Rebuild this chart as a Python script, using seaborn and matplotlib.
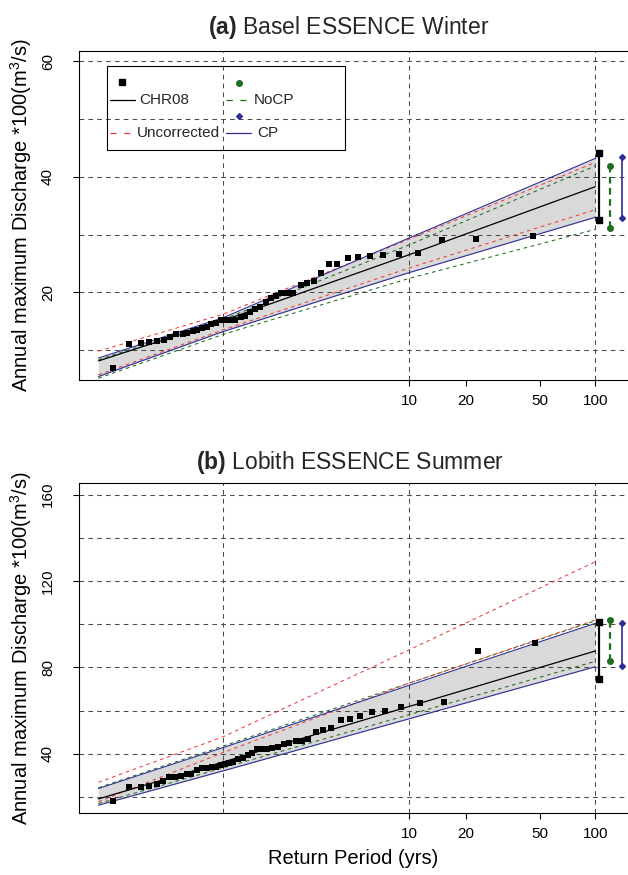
import numpy as np
import matplotlib
matplotlib.use("Agg")
import matplotlib.pyplot as plt
import seaborn as sns
from matplotlib.lines import Line2D
from matplotlib.patches import Rectangle
from matplotlib.ticker import FixedLocator, NullLocator

# ---------------- data ----------------
# (a) Basel ESSENCE Winter : observed annual maxima (return period, discharge*100)
T_pts_a = [1.0125, 1.0284, 1.0467, 1.0654, 1.0873, 1.1092, 1.1320, 1.1593, 1.1908, 1.2161,
           1.2486, 1.2749, 1.3125, 1.3488, 1.3872, 1.4265, 1.4778, 1.5193, 1.5667, 1.638,
           1.708, 1.772, 1.846, 1.916, 2.011, 2.110, 2.208, 2.319, 2.439, 2.585,
           2.743, 2.955, 3.143, 3.392, 3.666, 3.997, 4.363, 4.933, 5.522, 6.317,
           7.375, 8.905, 11.18, 14.95, 22.60, 46.04]
Q_pts_a = [6.8, 11.0, 11.2, 11.3, 11.6, 11.7, 12.2, 12.7, 12.7, 13.0,
           13.3, 13.5, 13.8, 14.0, 14.5, 14.6, 15.25, 15.25, 15.25, 15.25,
           15.8, 15.9, 16.6, 17.05, 17.4, 18.4, 19.0, 19.4, 19.9, 19.9,
           19.9, 21.2, 21.6, 21.9, 23.4, 24.85, 24.95, 25.9, 26.1, 26.3,
           26.5, 26.6, 26.8, 29.1, 29.2, 29.8]

# (b) Lobith ESSENCE Summer
T_pts_b = [1.0125, 1.0284, 1.0467, 1.0654, 1.0855, 1.1067, 1.1292, 1.1547, 1.1836, 1.2127,
           1.2399, 1.2749, 1.3125, 1.3488, 1.3906, 1.4294, 1.4747, 1.5193, 1.5667, 1.6134,
           1.6722, 1.7352, 1.8067, 1.8772, 1.9589, 2.0358, 2.1286, 2.2341, 2.3702, 2.4956,
           2.6364, 2.809, 3.003, 3.195, 3.476, 3.745, 4.085, 4.531, 5.010, 5.650,
           6.489, 7.547, 9.124, 11.455, 15.32, 23.25, 47.2]
Q_pts_b = [18.1, 24.5, 24.6, 25.1, 25.9, 27.5, 29.1, 29.1, 29.7, 30.6,
           30.6, 32.5, 33.3, 33.6, 33.7, 34.0, 34.8, 35.1, 35.6, 36.2,
           37.6, 38.1, 39.3, 40.2, 42.1, 42.2, 42.2, 42.5, 43.1, 44.4,
           44.9, 45.8, 45.9, 46.9, 49.9, 51.2, 51.8, 55.5, 56.0, 57.4,
           59.2, 59.7, 61.5, 63.4, 64.0, 87.5, 91.2]

# fitted lines / confidence bounds, read at these return periods
T_line = [1.005, 1.5, 10, 100]
chr08_a = [8.1, 15.1, 26.5, 38.3]
cp_up_a = [8.6, 15.6, 29.4, 43.2]
cp_lo_a = [5.4, 13.2, 23.4, 33.0]
nocp_up_a = [8.3, 15.3, 28.2, 41.9]
nocp_lo_a = [5.1, 12.7, 22.4, 30.9]
unc_up_a = [9.8, 16.2, 29.2, 42.5]
unc_lo_a = [5.7, 13.5, 24.2, 34.3]

chr08_b = [19.1, 36.2, 61.9, 87.6]
cp_up_b = [23.9, 42.9, 71.7, 100.4]
cp_lo_b = [16.2, 32.1, 56.2, 80.3]
nocp_up_b = [24.3, 43.6, 72.7, 101.6]
nocp_lo_b = [17.0, 33.5, 58.1, 82.8]
unc_up_b = [26.8, 47.9, 88.1, 128.9]
unc_lo_b = [17.8, 40.6, 72.7, 101.9]

# 100-year confidence intervals (lower, upper)
ci100_chr08_a = [32.5, 44.1]
ci100_nocp_a = [31.1, 41.9]
ci100_cp_a = [32.8, 43.5]
ci100_chr08_b = [74.5, 100.9]
ci100_nocp_b = [83.1, 101.9]
ci100_cp_b = [80.8, 100.7]

x_ticks = [10, 20, 50, 100]
x_ticklabels = ["10", "20", "50", "100"]
y_ticks_a = [20, 40, 60]
y_ticks_b = [40, 80, 120, 160]
y_grid_a = [10, 20, 30, 40, 50, 60]
y_grid_b = [20, 40, 60, 80, 100, 120, 140, 160]
T_grid = [1.495, 10, 100]

titles = ["(a)", "Basel ESSENCE Winter", "(b)", "Lobith ESSENCE Summer"]
ylabel = "Annual maximum Discharge *100(m$^3$/s)"
xlabel = "Return Period (yrs)"

# ---------------- style ----------------
sns.set_theme(style="ticks")
plt.rcParams["font.family"] = ["Liberation Sans", "DejaVu Sans"]
plt.rcParams["mathtext.fontset"] = "custom"
plt.rcParams["mathtext.rm"] = "Liberation Sans"
plt.rcParams["mathtext.bf"] = "Liberation Sans:bold"
plt.rcParams["mathtext.it"] = "Liberation Sans:italic"

C_BLACK = "#000000"
C_RED = "#f03c3c"
C_GREEN = "#1e6e1e"
C_BLUE = "#2e2e96"
C_BAND = "#d9d9d9"
C_GRID = "#4a4a4a"
DASH = (0, (3.5, 3.5))
GRID_DASH = (0, (4.5, 4))


def fwd(T):
    T = np.asarray(T, dtype=float)
    with np.errstate(all="ignore"):
        return -np.log(-np.log(1.0 - 1.0 / T))


def inv(r):
    r = np.asarray(r, dtype=float)
    with np.errstate(all="ignore"):
        return 1.0 / (1.0 - np.exp(-np.exp(-r)))


fig = plt.figure(figsize=(6.28, 8.75), dpi=100)
W, H = 628.0, 875.0
ax_a = fig.add_axes([79 / W, 1 - 380 / H, 1 - 79 / W, (380 - 50.7) / H])
ax_b = fig.add_axes([79 / W, 1 - 813.3 / H, 1 - 79 / W, (813.3 - 483) / H])

T100 = 100.0
bar_offsets = [0.05, 0.19, 0.34]


def panel(ax, Tp, Qp, chr08, cpu, cpl, nocpu, nocpl, uncu, uncl,
          ci_chr, ci_nocp, ci_cp, ylim, yticks, ygrid):
    ax.set_xscale("function", functions=(fwd, inv))
    ax.set_xlim(1.001146, 150.96)
    ax.set_ylim(*ylim)

    ax.fill_between(T_line, cpl, cpu, color=C_BAND, lw=0, zorder=1)
    for g in ygrid:
        ax.axhline(g, color=C_GRID, lw=0.75, ls=GRID_DASH, zorder=1.5)
    for g in T_grid:
        ax.axvline(g, color=C_GRID, lw=0.75, ls=GRID_DASH, zorder=1.5)

    for vals, col, ls, lw in [(nocpu, C_GREEN, DASH, 0.75), (nocpl, C_GREEN, DASH, 0.75),
                              (uncu, C_RED, DASH, 0.75), (uncl, C_RED, DASH, 0.75),
                              (cpu, C_BLUE, "-", 0.8), (cpl, C_BLUE, "-", 0.8),
                              (chr08, C_BLACK, "-", 0.9)]:
        sns.lineplot(x=T_line, y=vals, ax=ax, color=col, linestyle=ls, lw=lw,
                     estimator=None, zorder=2, legend=False)

    sns.scatterplot(x=Tp, y=Qp, ax=ax, marker="s", color="black", s=20,
                    linewidth=0, zorder=3, legend=False)

    r100 = float(fwd(T100))
    xb = [float(inv(r100 + o)) for o in bar_offsets]
    ax.plot([xb[0], xb[0]], ci_chr, color=C_BLACK, lw=1.6, marker="s", ms=4.2,
            zorder=4, clip_on=False)
    ax.plot([xb[1], xb[1]], ci_nocp, color=C_GREEN, lw=1.6, ls=(0, (3, 2)),
            marker="o", ms=4.0, zorder=4, clip_on=False)
    ax.plot([xb[2], xb[2]], ci_cp, color=C_BLUE, lw=1.2, marker="D", ms=3.0,
            zorder=4, clip_on=False)

    ax.xaxis.set_major_locator(FixedLocator(x_ticks))
    ax.xaxis.set_minor_locator(NullLocator())
    ax.set_xticklabels(x_ticklabels)
    ax.yaxis.set_major_locator(FixedLocator(yticks))
    ax.yaxis.set_minor_locator(NullLocator())
    ax.set_yticklabels([str(v) for v in yticks], rotation=90, va="center")
    ax.tick_params(axis="both", direction="out", length=4.2, width=0.8,
                   color="black", labelsize=11, labelcolor="black")
    ax.tick_params(axis="x", pad=6)
    ax.tick_params(axis="y", pad=13)
    for s in ["left", "bottom", "top"]:
        ax.spines[s].set_visible(True)
        ax.spines[s].set_color("black")
        ax.spines[s].set_linewidth(0.8)
    ax.spines["right"].set_visible(False)
    ax.set_facecolor("white")
    ax.set_xlabel("")
    ax.set_ylabel(ylabel, fontsize=14.5, color="black")
    ax.yaxis.set_label_coords(-0.082, 0.5)


panel(ax_a, T_pts_a, Q_pts_a, chr08_a, cp_up_a, cp_lo_a, nocp_up_a, nocp_lo_a,
      unc_up_a, unc_lo_a, ci100_chr08_a, ci100_nocp_a, ci100_cp_a,
      (4.8, 61.87), y_ticks_a, y_grid_a)
panel(ax_b, T_pts_b, Q_pts_b, chr08_b, cp_up_b, cp_lo_b, nocp_up_b, nocp_lo_b,
      unc_up_b, unc_lo_b, ci100_chr08_b, ci100_nocp_b, ci100_cp_b,
      (12.45, 165.4), y_ticks_b, y_grid_b)

ax_b.set_xlabel(xlabel, fontsize=14.5, color="black")
ax_b.xaxis.set_label_coords(0.5, -0.108)

fig.text(348.5 / W, 1 - 34 / H, r"$\mathbf{" + titles[0] + "}$ " + titles[1],
         ha="center", va="baseline", fontsize=16.5)
fig.text(350 / W, 1 - 469 / H, r"$\mathbf{" + titles[2] + "}$ " + titles[3],
         ha="center", va="baseline", fontsize=16.5)

# ---------------- legend (panel a) ----------------
ax = ax_a
tr = ax.transAxes
ax.add_patch(Rectangle((0.051, 0.6985), 0.4335, 0.255, transform=tr, fill=False,
                       edgecolor="black", lw=0.8, zorder=5))
ax.add_line(Line2D([0.0789], [0.904], transform=tr, marker="s", ms=5, color="black", ls="none", zorder=6))
ax.add_line(Line2D([0.0565, 0.102], [0.850, 0.850], transform=tr, color="black", lw=0.9, zorder=6))
ax.add_line(Line2D([0.291], [0.903], transform=tr, marker="o", ms=4, color=C_GREEN, ls="none", zorder=6))
ax.add_line(Line2D([0.268, 0.306], [0.850, 0.850], transform=tr, color=C_GREEN, lw=0.9,
                   ls=(0, (5, 6)), zorder=6))
ax.add_line(Line2D([0.291], [0.8026], transform=tr, marker="D", ms=3, color=C_BLUE, ls="none", zorder=6))
ax.add_line(Line2D([0.0565, 0.095], [0.750, 0.750], transform=tr, color=C_RED, lw=0.9,
                   ls=(0, (5, 6)), zorder=6))
ax.add_line(Line2D([0.268, 0.313], [0.750, 0.750], transform=tr, color=C_BLUE, lw=0.9, zorder=6))
for x, y, s in [(0.109, 0.850, "CHR08"), (0.319, 0.850, "NoCP"),
                (0.1056, 0.750, "Uncorrected"), (0.324, 0.750, "CP")]:
    ax.text(x, y, s, transform=tr, fontsize=11, va="center", ha="left", zorder=6)

fig.savefig("out.png", dpi=100, facecolor="white")
